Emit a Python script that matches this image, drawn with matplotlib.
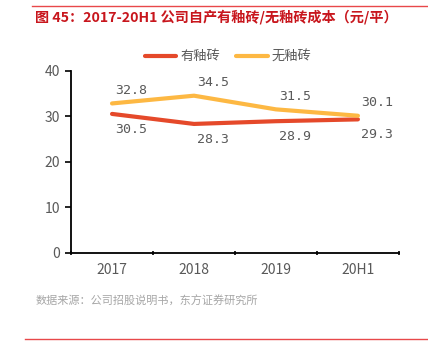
import matplotlib
matplotlib.use("Agg")
import matplotlib.pyplot as plt
from matplotlib.lines import Line2D

plt.rcParams['font.family'] = ['Noto Sans CJK SC', 'DejaVu Sans']

# 2017-20H1 自产瓷砖单位成本（元/平）
periods = ['2017', '2018', '2019', '20H1']
glazed = [30.5, 28.3, 28.9, 29.3]      # 有釉砖
unglazed = [32.8, 34.5, 31.5, 30.1]    # 无釉砖

c_glazed = '#E5492A'
c_unglazed = '#FDB843'
grey = '#595959'

fig = plt.figure(figsize=(4.28, 3.43), dpi=100)
ax = fig.add_axes([0.166, 0.263, 0.766, 0.531])

x = range(len(periods))
ax.plot(x, glazed, color=c_glazed, lw=3, solid_capstyle='round')
ax.plot(x, unglazed, color=c_unglazed, lw=3, solid_capstyle='round')

# value labels: above for 无釉砖, below for 有釉砖
lbl = dict(ha='center', va='center', fontsize=9.5, color=grey,
           family='DejaVu Sans Mono', textcoords='offset points')
for i, v in enumerate(unglazed):
    ax.annotate(f'{v:.1f}', (i, v), xytext=(14, 9.5), **lbl)
for i, v in enumerate(glazed):
    ax.annotate(f'{v:.1f}', (i, v), xytext=(14, -11), **lbl)

ax.set_xlim(-0.5, 3.5)
ax.set_ylim(0, 40)
ax.set_yticks([0, 10, 20, 30, 40])
ax.set_xticks(list(x))
ax.set_xticklabels(periods)
ax.set_xticks([-0.5, 0.5, 1.5, 2.5, 3.5], minor=True)
ax.tick_params(axis='x', which='major', length=0, pad=7, labelsize=10, labelcolor=grey)
ax.tick_params(axis='x', which='minor', length=3, width=1.2, direction='inout')
ax.tick_params(axis='y', length=4, width=1.2, labelsize=10, labelcolor=grey, pad=4)
for s in ['top', 'right']:
    ax.spines[s].set_visible(False)
for s in ['left', 'bottom']:
    ax.spines[s].set_linewidth(1.3)

handles = [Line2D([], [], color=c_glazed, lw=3, solid_capstyle='round'),
           Line2D([], [], color=c_unglazed, lw=3, solid_capstyle='round')]
fig.legend(handles, ['有釉砖', '无釉砖'], loc='center', bbox_to_anchor=(0.533, 0.834),
           ncol=2, frameon=False, fontsize=9.5, handlelength=2.4, columnspacing=1.2,
           handletextpad=0.3, labelcolor=grey)

fig.text(0.082, 0.95, '图 45：2017-20H1 公司自产有釉砖/无釉砖成本（元/平）',
         fontsize=10.2, fontweight='bold', color='#C8161D', va='center')
fig.text(0.082, 0.123, '数据来源：公司招股说明书，东方证券研究所',
         fontsize=8, color='#A6A6A6', va='center')

fig.add_artist(Line2D([0.075, 1.0], [0.983, 0.983], color='#E8484A', lw=1))
fig.add_artist(Line2D([0.058, 1.0], [0.012, 0.012], color='#E8484A', lw=1))

fig.savefig('out.png', dpi=100, facecolor='white')
